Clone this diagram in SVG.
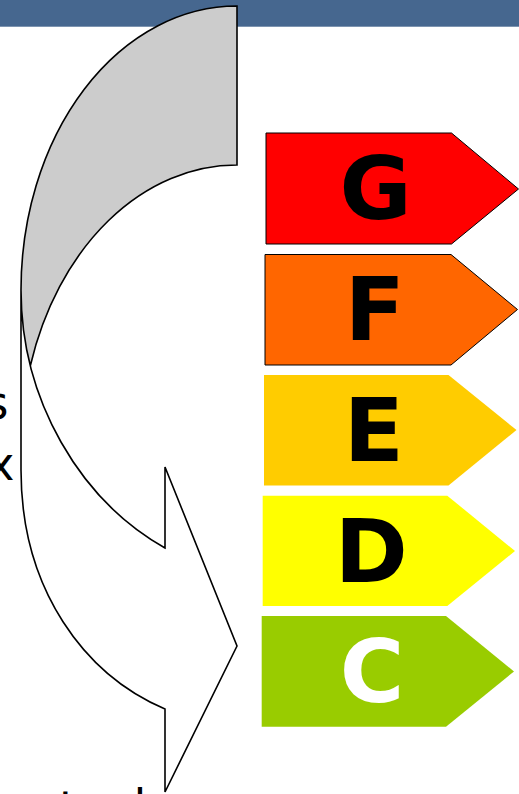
<svg xmlns="http://www.w3.org/2000/svg" width="519" height="794" viewBox="0 0 519 794">
  <style>
    .lbl { font-family: "DejaVu Sans", "Liberation Sans", sans-serif; font-weight: bold; font-size: 88px; text-anchor: middle; }
    .frag { font-family: "DejaVu Sans", "Liberation Sans", sans-serif; font-size: 46px; fill: #000; }
    .edge { fill: none; stroke: #000; stroke-width: 1.6; stroke-linejoin: miter; }
    .tag { stroke: #000; stroke-width: 1; }
  </style>
  <rect id="header-bar" x="0" y="0" width="519" height="26.7" fill="#46678f"/>

  <g id="side-text">
    <text class="frag" x="8.5" y="419" text-anchor="end">s</text>
    <text class="frag" x="14.5" y="480" text-anchor="end">x</text>
    <text class="frag" x="59" y="824">t</text>
    <text class="frag" x="117" y="822">d</text>
  </g>

  <g id="curved-arrow">
    <path d="M237,6 A216,284 0 0 0 21,290 L21,449 A216,284 0 0 1 237,165 Z" fill="#cccccc"/>
    <path d="M21,290 L21,470 C21,590 85,675 165,709 L165,792 L237,646 L165,467 L165,548 C80,500 21,400 21,290 Z" fill="#ffffff"/>
    <path class="edge" d="M21,290 L21,470 C21,590 85,675 165,709 L165,792 L237,646 L165,467 L165,548 C80,500 21,400 21,290 Z M21,290 A216,284 0 0 1 237,6 L237,165 A216,284 0 0 0 30.4,365.5"/>
  </g>

  <g id="label-G">
    <path class="tag" d="M266,133 L451.5,133 L518.5,189 L451.5,244 L266,244 Z" fill="#ff0000"/>
    <text class="lbl" x="375.5" y="219" fill="#000">G</text>
  </g>
  <g id="label-F">
    <path class="tag" d="M265,254.5 L451,254.5 L517.5,309.5 L451,365 L265,365 Z" fill="#ff6600"/>
    <text class="lbl" x="374.7" y="340" fill="#000">F</text>
  </g>
  <g id="label-E">
    <path d="M264,375 L448.5,375 L516.5,430 L448.5,485.5 L264,485.5 Z" fill="#ffcc00"/>
    <text class="lbl" x="373.7" y="460.5" fill="#000">E</text>
  </g>
  <g id="label-D">
    <path d="M262.7,495.7 L447.3,495.7 L515,551 L447.3,606 L262.7,606 Z" fill="#ffff00"/>
    <text class="lbl" x="371.2" y="581.5" fill="#000">D</text>
  </g>
  <g id="label-C">
    <path d="M261.7,616 L446,616 L514,671.5 L446,726.7 L261.7,726.7 Z" fill="#99cc00"/>
    <text class="lbl" x="372" y="702" fill="#ffffff">C</text>
  </g>
</svg>
